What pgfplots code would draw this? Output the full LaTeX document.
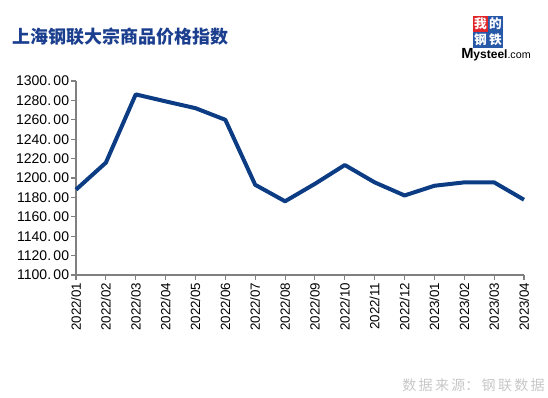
\documentclass[border=0pt]{standalone}
\usepackage{pgfplots}
\pgfplotsset{compat=1.18}
\usepackage{fontspec}
\setmainfont{Liberation Sans}
\newfontfamily\cjk{Noto Sans CJK SC}
\definecolor{lineblue}{HTML}{0B3C84}
\definecolor{titleblue}{HTML}{1B3F8E}
\definecolor{axgray}{HTML}{808080}
\definecolor{logored}{HTML}{E0262B}
\definecolor{logoblue}{HTML}{2858A8}
\begin{document}
\begin{tikzpicture}
\path[use as bounding box] (0,0) rectangle (411pt,297.75pt);
\begin{axis}[
  at={(57pt,91.5pt)}, anchor=south west,
  scale only axis, width=336pt, height=145.5pt,
  xmin=0, xmax=15, ymin=1100, ymax=1300,
  axis lines*=left,
  axis line style={axgray, line width=1.1pt},
  every tick/.style={axgray, line width=0.8pt},
  tick align=outside, major tick length=3.5pt,
  xtick={0,...,15},
  xticklabels={2022/01,2022/02,2022/03,2022/04,2022/05,2022/06,2022/07,2022/08,2022/09,2022/10,2022/11,2022/12,2023/01,2023/02,2023/03,2023/04},
  xticklabel style={rotate=90, anchor=east, font=\fontsize{10}{11}\selectfont, inner sep=2pt},
  ytick={1100,1120,...,1300},
  yticklabel={\pgfmathprintnumber[fixed,fixed zerofill,precision=2,1000 sep={},dec sep={.\,}]{\tick}},
  yticklabel style={font=\fontsize{10.5}{11}\selectfont, inner sep=1.5pt},
  /pgf/number format/assume math mode=true,
  clip=false,
]
\addplot[lineblue, line width=3pt, line join=round] coordinates {
(0,1188) (1,1215.8) (2,1286.2) (3,1279) (4,1272) (5,1260)
(6,1193) (7,1176) (8,1194) (9,1213.4) (10,1195.5) (11,1182)
(12,1192) (13,1195.5) (14,1195.5) (15,1177.6)
};
\end{axis}
\begin{scope}[x=0.75pt,y=0.75pt]
% title
\node[anchor=west, inner sep=0pt, text=titleblue] at (12,360) {\cjk\bfseries\fontsize{13.5}{14}\selectfont 上海钢联大宗商品价格指数};
% logo
\fill[logored] (473,381) rectangle (488,365);
\fill[logoblue] (488,381) rectangle (503,365);
\fill[logoblue] (473,365) rectangle (488,349);
\fill[logoblue] (488,365) rectangle (503,349);
\node[text=white, inner sep=0pt] at (480.5,373) {\cjk\bfseries\fontsize{9.5}{10}\selectfont 我};
\node[text=white, inner sep=0pt] at (495.5,373) {\cjk\bfseries\fontsize{9.5}{10}\selectfont 的};
\node[text=white, inner sep=0pt] at (480.5,357) {\cjk\bfseries\fontsize{9.5}{10}\selectfont 钢};
\node[text=white, inner sep=0pt] at (495.5,357) {\cjk\bfseries\fontsize{9.5}{10}\selectfont 铁};
\node[anchor=west, inner sep=0pt] at (461,342) {\bfseries\fontsize{11}{12}\selectfont M\fontsize{9}{10}\selectfont ysteel\mdseries\fontsize{8}{9}\selectfont .com};
% source
\node[anchor=east, inner sep=0pt, text=black!22] at (545,12) {\cjk\fontsize{10.5}{11}\selectfont 数\,据\,来\,源：\,钢\,联\,数\,据};
\end{scope}
\end{tikzpicture}
\end{document}
